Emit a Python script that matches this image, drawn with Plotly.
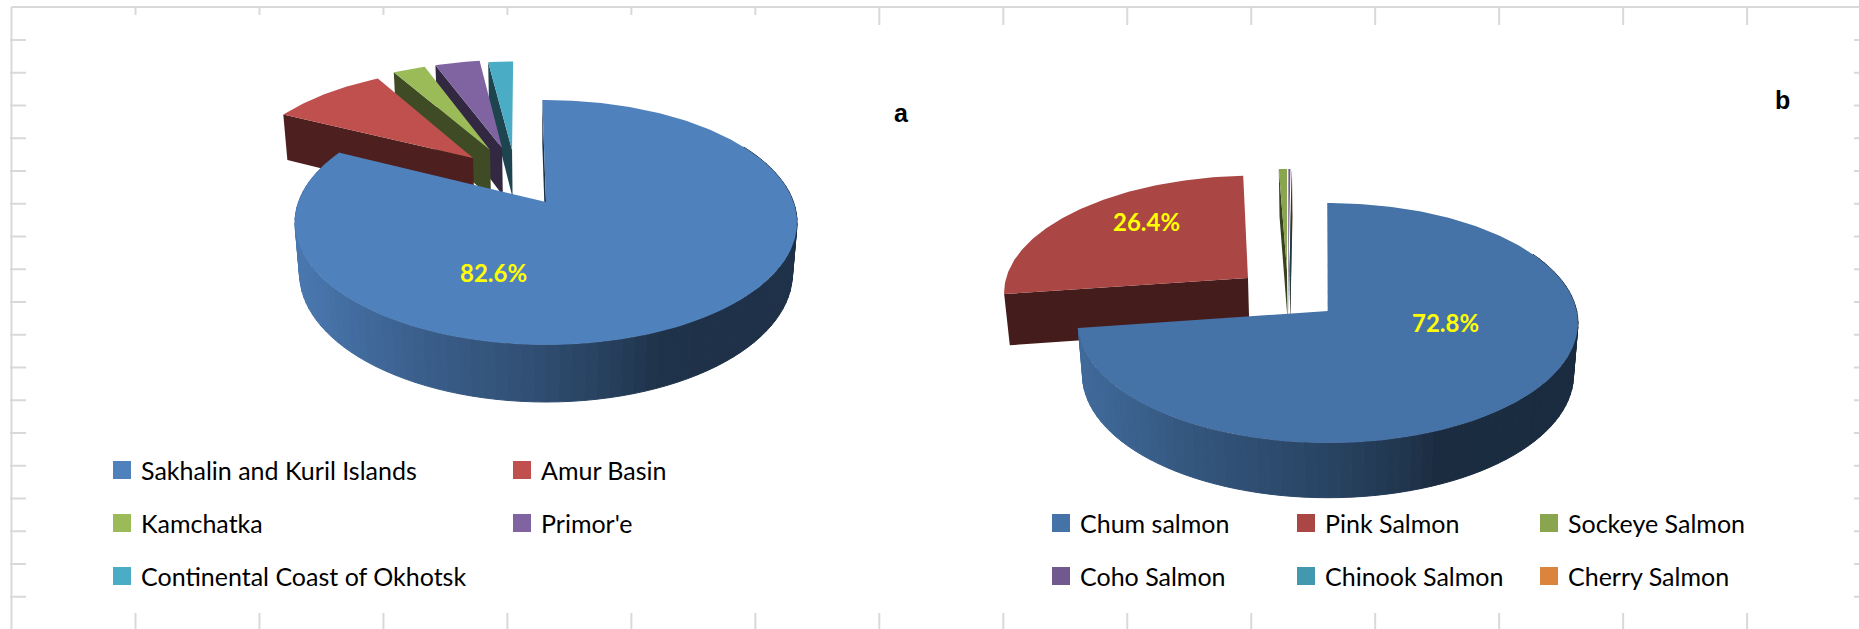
import numpy as np
import plotly.graph_objects as go

# Catch shares by region (%)
REGIONS = ["Sakhalin and Kuril Islands", "Amur Basin", "Kamchatka", "Primor'e", "Continental Coast of Okhotsk"]
REGION_SHARES = [82.6, 9.2, 2.6, 3.6, 2.0]

# Catch shares by species (%)
SPECIES = ["Chum salmon", "Pink Salmon", "Sockeye Salmon", "Coho Salmon", "Chinook Salmon", "Cherry Salmon"]
SPECIES_SHARES = [72.8, 26.4, 0.6, 0.15, 0.03, 0.02]

REGION_COLORS = ["#4f81bd", "#c0504d", "#9bbb59", "#8064a2", "#4bacc6"]
SPECIES_COLORS = ["#4572a7", "#aa4643", "#89a54e", "#71588f", "#4198af", "#db843d"]

# Projection of each tilted disc onto the canvas, plus the pull-out of each slice
PIE_A = dict(cx=546, cy=202, a=247.5, b=119.0, k=0.167, m=0.018, d=51.2, rot=-1.0,
             left=299, right=798,
             pull=[(0, 0), (-0.314, -0.394), (-0.244, -0.471), (-0.192, -0.491), (-0.148, -0.471)])
PIE_B = dict(cx=1328, cy=311, a=248.7, b=118.8, k=0.10, m=0.018, d=52.6, rot=-0.2,
             left=1084, right=1578,
             pull=[(0, 0), (-0.331, -0.286), (-0.171, -0.358), (-0.165, -0.358), (-0.16, -0.358), (-0.16, -0.358)])

GRID = "#d9d9d9"
# Wall brightness from the left to the right of a disc
SHADE_T = [0.0, 0.03, 0.24, 0.45, 0.65, 0.72, 1.0]
SHADE_F = [0.92, 0.90, 0.735, 0.62, 0.47, 0.385, 0.38]


def rgb(hex_color, f=1.0):
    h = hex_color.lstrip("#")
    r, g, bl = (int(h[i:i + 2], 16) for i in (0, 2, 4))
    return f"rgb({r * f:.0f},{g * f:.0f},{bl * f:.0f})"


def project(p, theta, radius, off, z):
    """Canvas position of a point on the disc; theta runs clockwise from 12 o'clock."""
    t = np.radians(theta)
    u = radius * np.sin(t) + off[0]
    v = -radius * np.cos(t) + off[1]
    w = 1 - p["k"] * v + p["m"] * z
    return p["cx"] + p["a"] * u / w, p["cy"] + (p["b"] * v + p["d"] * z) / w


def polygon(fig, xs, ys, color, edge=0):
    fig.add_trace(go.Scatter(
        x=list(xs), y=list(ys), mode="lines", fill="toself", fillcolor=color,
        line=dict(color=color, width=edge), hoverinfo="skip", showlegend=False))


def slice_spans(values, rot):
    edges = rot + np.concatenate([[0], np.cumsum(values)]) * 3.6
    return list(zip(edges[:-1], edges[1:]))


def cut_face(fig, p, theta, off, color):
    x0, y0 = project(p, theta, 0, off, 0)
    x1, y1 = project(p, theta, 1, off, 0)
    x2, y2 = project(p, theta, 1, off, 1)
    x3, y3 = project(p, theta, 0, off, 1)
    polygon(fig, [x0, x1, x2, x3, x0], [y0, y1, y2, y3, y0], color)


def top_face(fig, p, start, end, off, color):
    th = np.linspace(start, end, max(int(end - start) + 2, 3))
    x, y = project(p, th, 1, off, 0)
    tx, ty = project(p, 0, 0, off, 0)
    polygon(fig, [tx, *x, tx], [ty, *y, ty], color)


def draw_pie(fig, p, values, colors):
    spans = slice_spans(values, p["rot"])
    # Pulled-out slices, far side first
    for i in range(len(values) - 1, 0, -1):
        start, end = spans[i]
        cut_face(fig, p, start, p["pull"][i], rgb(colors[i], 0.4))
        top_face(fig, p, start, end, p["pull"][i], colors[i])
    # Main slice: cut side, shaded rim wall, then the top
    start, end = spans[0]
    cut_face(fig, p, start, (0, 0), rgb(colors[0], 0.38))
    edges = np.arange(max(start, 60), end, 2.5)
    edges = np.append(edges, end)
    for a0, a1 in zip(edges[:-1], edges[1:]):
        th = np.linspace(a0, a1, 3)
        xt, yt = project(p, th, 1, (0, 0), 0)
        xb, yb = project(p, th[::-1], 1, (0, 0), 1)
        t = (xt.mean() - p["left"]) / (p["right"] - p["left"])
        f = float(np.interp(t, SHADE_T, SHADE_F))
        polygon(fig, [*xt, *xb, xt[0]], [*yt, *yb, yt[0]], rgb(colors[0], f), edge=1)
    top_face(fig, p, start, end, (0, 0), colors[0])


fig = go.Figure()
draw_pie(fig, PIE_A, REGION_SHARES, REGION_COLORS)
draw_pie(fig, PIE_B, SPECIES_SHARES, SPECIES_COLORS)

annotations = []


def text(x, y, s, size, color="#000000", family="Lato", bold=False, anchor="left"):
    annotations.append(dict(
        x=x, y=y, xref="x", yref="y", text=f"<b>{s}</b>" if bold else s, showarrow=False,
        xanchor=anchor, yanchor="middle", font=dict(family=family, size=size, color=color)))


# Percentage labels
text(493, 272, f"{REGION_SHARES[0]:.1f}%", 24, "#ffff00", bold=True, anchor="center")
text(1445, 322, f"{SPECIES_SHARES[0]:.1f}%", 24, "#ffff00", bold=True, anchor="center")
text(1146, 221, f"{SPECIES_SHARES[1]:.1f}%", 24, "#ffff00", bold=True, anchor="center")

# Panel letters
text(901, 113, "a", 25, family="Liberation Sans", bold=True, anchor="center")
text(1782, 100, "b", 25, family="Liberation Sans", bold=True, anchor="center")

# Legends
legend_a = [(122, 470), (522, 470), (122, 523), (522, 523), (122, 576)]
legend_b = [(1061, 523), (1306, 523), (1549, 523), (1061, 576), (1306, 576), (1549, 576)]
for names, colors, places in ((REGIONS, REGION_COLORS, legend_a), (SPECIES, SPECIES_COLORS, legend_b)):
    fig.add_trace(go.Scatter(
        x=[q[0] for q in places], y=[q[1] for q in places], mode="markers",
        marker=dict(symbol="square", size=18, color=colors, line=dict(width=0)),
        hoverinfo="skip", showlegend=False))
    for name, (x, y) in zip(names, places):
        text(x + 17, y, name, 25)

# Worksheet frame and its tick marks
shapes = []


def rule(x0, y0, x1, y1):
    shapes.append(dict(type="line", xref="x", yref="y", x0=x0, y0=y0, x1=x1, y1=y1,
                       line=dict(color=GRID, width=2), layer="below"))


rule(11.5, 7, 1859, 7)
rule(11.5, 7, 11.5, 629)
for n in range(14):
    x = 135.5 + 123.97 * n
    rule(x, 7, x, 15 if n < 6 else 25)
    rule(x, 613, x, 629)
for n in range(18):
    y = 40 + 32.75 * n
    rule(10, y, 26, y)
    rule(1854, y, 1859, y)

fig.update_layout(
    width=1859, height=629, margin=dict(l=0, r=0, t=0, b=0),
    paper_bgcolor="white", plot_bgcolor="white", showlegend=False,
    xaxis=dict(range=[0, 1859], visible=False, fixedrange=True),
    yaxis=dict(range=[629, 0], visible=False, fixedrange=True),
    annotations=annotations, shapes=shapes)

fig.write_html("out.html")
